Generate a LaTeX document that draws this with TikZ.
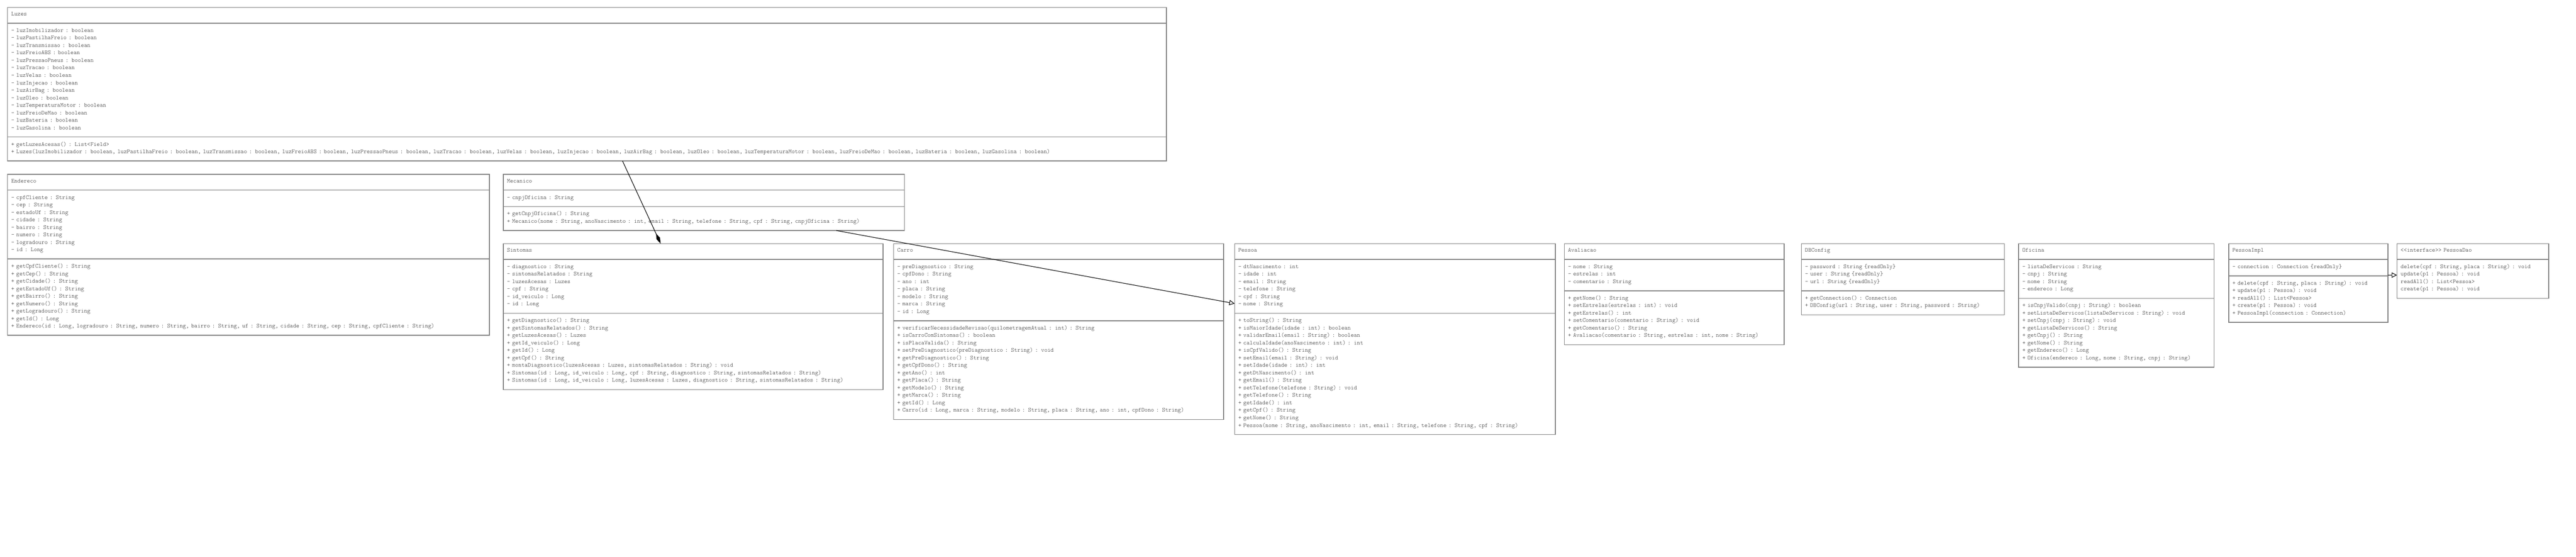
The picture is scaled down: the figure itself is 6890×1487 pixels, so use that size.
\documentclass[tikz,border=0pt]{standalone}
\usepackage{tikz}
\usetikzlibrary{calc}
\usetikzlibrary{shapes.multipart}
\usetikzlibrary{arrows.meta}
\definecolor{classline}{RGB}{128,128,128}
\definecolor{classtext}{RGB}{50,50,50}
\tikzset{
    % Plain black connector between two classes
    link/.style={draw, line width=1.5pt, black},
%
    % A class: name, fields and methods, one part each
    class box/.style={
        rectangle split, rectangle split parts=3,
        draw=classline, line width=2pt, text=classtext,
        font=\fontsize{16}{20}\fontseries{l}\ttfamily\selectfont,
        align=left, inner xsep=10pt, inner ysep=0pt, outer sep=0pt,
        anchor=north west},
%
    % An interface only lists its methods
    interface box/.style={class box, rectangle split parts=2},
%
    % Whole-part and is-a tips
    composition/.style={link, -{Diamond[length=30pt, width=10pt]}},
    inheritance/.style={link, -{Triangle[open, length=14pt, width=14pt, fill=white]}}}

\begin{document}
\begin{tikzpicture}[x=1pt, y=-1pt]

\fill [white] (0,0) rectangle (6890,1487);
\useasboundingbox (0,0) rectangle (6890,1487);

% Top row

\node [class box, text width=3080pt] (luzes) at (20,20)
    {
        \rule[-19pt]{0pt}{40pt}Luzes
    \nodepart{two}
        \rule{0pt}{23pt}- luzImobilizador : boolean\\
        - luzPastilhaFreio : boolean\\
        - luzTransmissao : boolean\\
        - luzFreioABS : boolean\\
        - luzPressaoPneus : boolean\\
        - luzTracao : boolean\\
        - luzVelas : boolean\\
        - luzInjecao : boolean\\
        - luzAirBag : boolean\\
        - luzOleo : boolean\\
        - luzTemperaturaMotor : boolean\\
        - luzFreioDeMao : boolean\\
        - luzBateria : boolean\\
        - luzGasolina : boolean\rule[-19pt]{0pt}{19pt}
    \nodepart{three}
        \rule{0pt}{23pt}+ getLuzesAcesas() : List<Field>\\
        + Luzes(luzImobilizador : boolean, luzPastilhaFreio : boolean, luzTransmissao : boolean, luzFreioABS : boolean, luzPressaoPneus : boolean, luzTracao : boolean, luzVelas : boolean, luzInjecao : boolean, luzAirBag : boolean, luzOleo : boolean, luzTemperaturaMotor : boolean, luzFreioDeMao : boolean, luzBateria : boolean, luzGasolina : boolean)\rule[-19pt]{0pt}{19pt}
    };

\node [class box, text width=1269pt] (endereco) at (20,466)
    {
        \rule[-19pt]{0pt}{40pt}Endereco
    \nodepart{two}
        \rule{0pt}{23pt}- cpfCliente : String\\
        - cep : String\\
        - estadoUf : String\\
        - cidade : String\\
        - bairro : String\\
        - numero : String\\
        - logradouro : String\\
        - id : Long\rule[-19pt]{0pt}{19pt}
    \nodepart{three}
        \rule{0pt}{23pt}+ getCpfCliente() : String\\
        + getCep() : String\\
        + getCidade() : String\\
        + getEstadoUf() : String\\
        + getBairro() : String\\
        + getNumero() : String\\
        + getLogradouro() : String\\
        + getId() : Long\\
        + Endereco(id : Long, logradouro : String, numero : String, bairro : String, uf : String, cidade : String, cep : String, cpfCliente : String)\rule[-19pt]{0pt}{19pt}
    };

\node [class box, text width=1053pt] (mecanico) at (1346,466)
    {
        \rule[-19pt]{0pt}{40pt}Mecanico
    \nodepart{two}
        \rule[-19pt]{0pt}{42pt}- cnpjOficina : String
    \nodepart{three}
        \rule{0pt}{23pt}+ getCnpjOficina() : String\\
        + Mecanico(nome : String, anoNascimento : int, email : String, telefone : String, cpf : String, cnpjOficina : String)\rule[-19pt]{0pt}{19pt}
    };

% Bottom row

\node [class box, text width=996pt] (sintomas) at (1346,651)
    {
        \rule[-19pt]{0pt}{40pt}Sintomas
    \nodepart{two}
        \rule{0pt}{23pt}- diagnostico : String\\
        - sintomasRelatados : String\\
        - luzesAcesas : Luzes\\
        - cpf : String\\
        - id\_veiculo : Long\\
        - id : Long\rule[-19pt]{0pt}{19pt}
    \nodepart{three}
        \rule{0pt}{23pt}+ getDiagnostico() : String\\
        + getSintomasRelatados() : String\\
        + getLuzesAcesas() : Luzes\\
        + getId\_veiculo() : Long\\
        + getId() : Long\\
        + getCpf() : String\\
        + montaDiagnostico(luzesAcesas : Luzes, sintomasRelatados : String) : void\\
        + Sintomas(id : Long, id\_veiculo : Long, cpf : String, diagnostico : String, sintomasRelatados : String)\\
        + Sintomas(id : Long, id\_veiculo : Long, luzesAcesas : Luzes, diagnostico : String, sintomasRelatados : String)\rule[-19pt]{0pt}{19pt}
    };

\node [class box, text width=863pt] (carro) at (2390,651)
    {
        \rule[-19pt]{0pt}{40pt}Carro
    \nodepart{two}
        \rule{0pt}{23pt}- preDiagnostico : String\\
        - cpfDono : String\\
        - ano : int\\
        - placa : String\\
        - modelo : String\\
        - marca : String\\
        - id : Long\rule[-19pt]{0pt}{19pt}
    \nodepart{three}
        \rule{0pt}{23pt}+ verificarNecessidadeRevisao(quilometragemAtual : int) : String\\
        + isCarroComSintomas() : boolean\\
        + isPlacaValida() : String\\
        + setPreDiagnostico(preDiagnostico : String) : void\\
        + getPreDiagnostico() : String\\
        + getCpfDono() : String\\
        + getAno() : int\\
        + getPlaca() : String\\
        + getModelo() : String\\
        + getMarca() : String\\
        + getId() : Long\\
        + Carro(id : Long, marca : String, modelo : String, placa : String, ano : int, cpfDono : String)\rule[-19pt]{0pt}{19pt}
    };

\node [class box, text width=838pt] (pessoa) at (3302,651)
    {
        \rule[-19pt]{0pt}{40pt}Pessoa
    \nodepart{two}
        \rule{0pt}{23pt}- dtNascimento : int\\
        - idade : int\\
        - email : String\\
        - telefone : String\\
        - cpf : String\\
        - nome : String\rule[-19pt]{0pt}{19pt}
    \nodepart{three}
        \rule{0pt}{23pt}+ toString() : String\\
        + isMaiorIdade(idade : int) : boolean\\
        + validarEmail(email : String) : boolean\\
        + calculaIdade(anoNascimento : int) : int\\
        + isCpfValido() : String\\
        + setEmail(email : String) : void\\
        + setIdade(idade : int) : int\\
        + getDtNascimento() : int\\
        + getEmail() : String\\
        + setTelefone(telefone : String) : void\\
        + getTelefone() : String\\
        + getIdade() : int\\
        + getCpf() : String\\
        + getNome() : String\\
        + Pessoa(nome : String, anoNascimento : int, email : String, telefone : String, cpf : String)\rule[-19pt]{0pt}{19pt}
    };

\node [class box, text width=568pt] (avaliacao) at (4184,651)
    {
        \rule[-19pt]{0pt}{40pt}Avaliacao
    \nodepart{two}
        \rule{0pt}{23pt}- nome : String\\
        - estrelas : int\\
        - comentario : String\rule[-19pt]{0pt}{19pt}
    \nodepart{three}
        \rule{0pt}{23pt}+ getNome() : String\\
        + setEstrelas(estrelas : int) : void\\
        + getEstrelas() : int\\
        + setComentario(comentario : String) : void\\
        + getComentario() : String\\
        + Avaliacao(comentario : String, estrelas : int, nome : String)\rule[-19pt]{0pt}{19pt}
    };

\node [class box, text width=523pt] (dbconfig) at (4818,651)
    {
        \rule[-19pt]{0pt}{40pt}DBConfig
    \nodepart{two}
        \rule{0pt}{23pt}- password : String \{readOnly\}\\
        - user : String \{readOnly\}\\
        - url : String \{readOnly\}\rule[-19pt]{0pt}{19pt}
    \nodepart{three}
        \rule{0pt}{23pt}+ getConnection() : Connection\\
        + DBConfig(url : String, user : String, password : String)\rule[-19pt]{0pt}{19pt}
    };

\node [class box, text width=503pt] (oficina) at (5399,651)
    {
        \rule[-19pt]{0pt}{40pt}Oficina
    \nodepart{two}
        \rule{0pt}{23pt}- listaDeServicos : String\\
        - cnpj : String\\
        - nome : String\\
        - endereco : Long\rule[-19pt]{0pt}{19pt}
    \nodepart{three}
        \rule{0pt}{23pt}+ isCnpjValido(cnpj : String) : boolean\\
        + setListaDeServicos(listaDeServicos : String) : void\\
        + setCnpj(cnpj : String) : void\\
        + getListaDeServicos() : String\\
        + getCnpj() : String\\
        + getNome() : String\\
        + getEndereco() : Long\\
        + Oficina(endereco : Long, nome : String, cnpj : String)\rule[-19pt]{0pt}{19pt}
    };

\node [class box, text width=406pt] (pessoaimpl) at (5961,651)
    {
        \rule[-19pt]{0pt}{40pt}PessoaImpl
    \nodepart{two}
        \rule[-19pt]{0pt}{42pt}- connection : Connection \{readOnly\}
    \nodepart{three}
        \rule{0pt}{23pt}+ delete(cpf : String, placa : String) : void\\
        + update(p1 : Pessoa) : void\\
        + readAll() : List<Pessoa>\\
        + create(p1 : Pessoa) : void\\
        + PessoaImpl(connection : Connection)\rule[-19pt]{0pt}{19pt}
    };

\node [interface box, text width=386pt] (pessoadao) at (6411,651)
    {
        \rule[-19pt]{0pt}{40pt}<\kern0pt<interface>\kern0pt> PessoaDao
    \nodepart{two}
        \rule{0pt}{23pt}delete(cpf : String, placa : String) : void\\
        update(p1 : Pessoa) : void\\
        readAll() : List<Pessoa>\\
        create(p1 : Pessoa) : void\rule[-19pt]{0pt}{19pt}
    };

% Relations

\draw [composition] ($(luzes.south west)+(1645,0)$) -- ($(sintomas.north west)+(421,0)$);
\draw [inheritance] ($(mecanico.south west)+(891,0)$) -- ($(pessoa.north west)+(0,160)$);
\draw [inheritance] ($(pessoaimpl.north east)+(0,84)$) -- ($(pessoadao.north west)+(0,84)$);

\end{tikzpicture}
\end{document}
